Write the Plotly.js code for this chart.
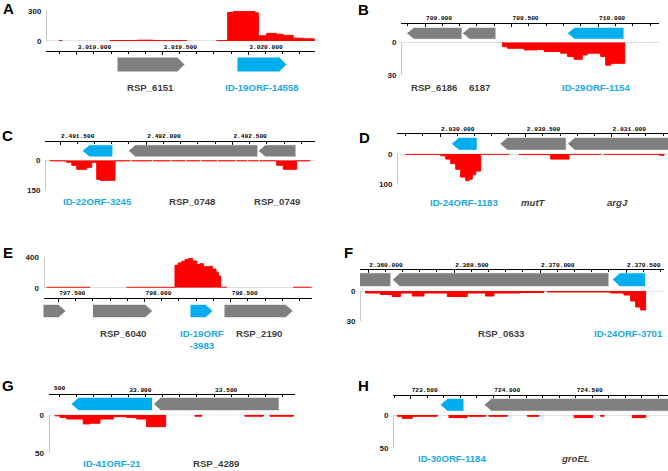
<!DOCTYPE html>
<html><head><meta charset="utf-8">
<script src="https://cdn.plot.ly/plotly-3.0.1.min.js"></script>
<style>html,body{margin:0;padding:0;background:#fff}</style>
</head><body><div id="chart" style="width:668px;height:471px"></div>
<script>
const W = 668, H = 471;
const GRAY = '#7f7f7f', CYAN = '#00aeef', RED = '#ff0000';
const KNOWN_TXT = '#3f3f3f', NOVEL_TXT = '#1ba7e1';

// ---------- Panel A ----------
const aTickVals = [3019000, 3019500, 3020000];
const aTickText = ['3.019.000', '3.019.500', '3.020.000'];
const aCovTicks = ['0', '300'];
const aGeneName = ['RSP_6151', 'ID-19ORF-14558'];
const aGeneLabel = ['RSP_6151', 'ID-19ORF-14558'];
const aGeneStart = [3019235, 3019934];
const aGeneEnd = [3019631, 3020225];
const aGeneStrand = ['+', '+'];
const aGeneType = ['known', 'novel'];
const aCovPos = [3018825, 3018899, 3018914, 3019194, 3019350, 3019447, 3019641, 3019816, 3019880, 3019913, 3020039, 3020059, 3020107, 3020165, 3020204, 3020262, 3020321, 3020385];
const aCovVal = [0, 5, 0, 4, 8, 4, 0, 4, 285, 296, 282, 52, 76, 68, 56, 28, 22];

// ---------- Panel B ----------
const bTickVals = [709000, 709500, 710000];
const bTickText = ['709.000', '709.500', '710.000'];
const bCovTicks = ['0', '30'];
const bGeneName = ['RSP_6186', 'RSP_6187', 'ID-29ORF-1154'];
const bGeneLabel = ['RSP_6186', '6187', 'ID-29ORF-1154'];
const bGeneStart = [708892, 709214, 709821];
const bGeneEnd = [709214, 709410, 710150];
const bGeneStrand = ['-', '-', '-'];
const bGeneType = ['known', 'known', 'novel'];
const bCovPos = [709447, 709476, 709572, 709649, 709688, 709784, 709823, 709861, 709909, 709938, 710015, 710044, 710073, 710154];
const bCovVal = [4, 5.5, 7, 6.5, 8.5, 10, 13, 15.6, 11.6, 10, 13, 21, 19.3];

// ---------- Panel C ----------
const cTickVals = [2491500, 2492000, 2492500];
const cTickText = ['2.491.500', '2.492.000', '2.492.500'];
const cCovTicks = ['0', '150'];
const cGeneName = ['ID-22ORF-3245', 'RSP_0748', 'RSP_0749'];
const cGeneLabel = ['ID-22ORF-3245', 'RSP_0748', 'RSP_0749'];
const cGeneStart = [2491628, 2491894, 2492648];
const cGeneEnd = [2491807, 2492648, 2492869];
const cGeneStrand = ['-', '-', '-'];
const cGeneType = ['novel', 'known', 'known'];
const cCovPos = [2491442, 2491539, 2491568, 2491597, 2491655, 2491684, 2491713, 2491732, 2491819, 2491906, 2491916, 2492032, 2492042, 2492138, 2492148, 2492225, 2492235, 2492312, 2492322, 2492409, 2492419, 2492515, 2492525, 2492583, 2492593, 2492650, 2492660, 2492757, 2492795, 2492873, 2492950];
const cCovVal = [3, 10, 25, 45, 35, 10, 95, 100, 3, 0, 3, 0, 3, 0, 3, 0, 3, 0, 3, 0, 3, 0, 3, 0, 3, 0, 3, 25, 45, 3];

// ---------- Panel D ----------
const dTickVals = [2930000, 2930500, 2931000];
const dTickText = ['2.930.000', '2.930.500', '2.931.000'];
const dCovTicks = ['0', '100'];
const dGeneName = ['ID-24ORF-1183', 'mutT', 'argJ'];
const dGeneLabel = ['ID-24ORF-1183', '<i>mutT</i>', '<i>argJ</i>'];
const dGeneStart = [2930066, 2930348, 2930742];
const dGeneEnd = [2930217, 2930736, 2931400];
const dGeneStrand = ['-', '-', '-'];
const dGeneType = ['novel', 'known', 'known'];
const dCovPos = [2929800, 2930004, 2930033, 2930062, 2930091, 2930120, 2930150, 2930169, 2930188, 2930208, 2930237, 2930402, 2930460, 2930645, 2930752, 2930937, 2930956, 2931277, 2931306];
const dCovVal = [2, 7, 18, 33, 52, 78, 90, 85, 70, 58, 2, 0, 3, 18, 2, 0, 2, 5];

// ---------- Panel E ----------
const eTickVals = [797500, 798000, 798500];
const eTickText = ['797.500', '798.000', '798.500'];
const eCovTicks = ['0', '400'];
const eGeneName = ['', 'RSP_6040', 'ID-19ORF-3983', 'RSP_2190'];
const eGeneLabel = ['', 'RSP_6040', 'ID-19ORF<br>-3983', 'RSP_2190'];
const eGeneStart = [797380, 797698, 798264, 798461];
const eGeneEnd = [797545, 798048, 798398, 798863];
const eGeneStrand = ['+', '+', '+', '+'];
const eGeneType = ['known', 'known', 'novel', 'known'];
const eCovPos = [797433, 797684, 797897, 798177, 798196, 798216, 798235, 798254, 798279, 798303, 798322, 798341, 798370, 798395, 798415, 798428, 798442, 798477, 798863, 798970];
const eCovVal = [5, 0, 5, 290, 320, 340, 365, 375, 345, 300, 310, 270, 275, 240, 200, 150, 6, 0, 6];

// ---------- Panel F ----------
const fTickVals = [2369000, 2369500, 2370000, 2370500];
const fTickText = ['2.369.000', '2.369.500', '2.370.000', '2.370.500'];
const fCovTicks = ['0', '30'];
const fGeneName = ['', 'RSP_0633', 'ID-24ORF-3701'];
const fGeneLabel = ['', 'RSP_0633', 'ID-24ORF-3701'];
const fGeneStart = [2368800, 2369140, 2370420];
const fGeneEnd = [2369132, 2370401, 2370614];
const fGeneStrand = ['-', '-', '-'];
const fGeneType = ['known', 'known', 'novel'];
const fCovPos = [2368984, 2369072, 2369140, 2369188, 2369256, 2369324, 2369460, 2369576, 2369682, 2369731, 2369886, 2370022, 2370042, 2370410, 2370488, 2370527, 2370556, 2370585, 2370614];
const fCovVal = [2, 3.5, 5.5, 2, 5, 2, 5.5, 2, 5, 2, 1.5, 0, 1, 2, 4, 10, 16, 19];

// ---------- Panel G ----------
const gTickVals = [33000, 33500];
const gTickText = ['33.000', '33.500'];
const gCovTicks = ['0', '50'];
const gGeneName = ['ID-41ORF-21', 'RSP_4289'];
const gGeneLabel = ['ID-41ORF-21', 'RSP_4289'];
const gGeneStart = [32666, 33146];
const gGeneEnd = [33142, 33880];
const gGeneStrand = ['-', '-'];
const gGeneType = ['novel', 'known'];
const gCovPos = [32573, 32602, 32641, 32738, 32777, 32835, 32913, 32990, 33049, 33107, 33218, 33389, 33428, 33680, 33787, 33826, 33962];
const gCovVal = [1.5, 3.5, 5.6, 12, 11, 5.6, 2.5, 3.5, 5.6, 15.5, 0, 2, 0, 2, 0, 2];

// ---------- Panel H ----------
const hTickVals = [723500, 724000, 724500];
const hTickText = ['723.500', '724.000', '724.500'];
const hCovTicks = ['0', '50'];
const hGeneName = ['ID-30ORF-1184', 'groEL'];
const hGeneLabel = ['ID-30ORF-1184', '<i>groEL</i>'];
const hGeneStart = [723678, 723944];
const hGeneEnd = [723823, 725150];
const hGeneStrand = ['-', '-'];
const hGeneType = ['novel', 'known'];
const hCovPos = [723419, 723449, 723510, 723661, 723732, 723843, 723853, 723954, 723974, 724086, 724207, 724277, 724490, 724601, 724651, 724671, 724843, 724924];
const hCovVal = [2, 5, 2, 0, 4, 0, 2, 0, 2, 0, 2, 0, 4, 0, 2, 0, 4];

const panels = [
  {letter:'A', tv:aTickVals, tt:aTickText, ct:aCovTicks, gn:aGeneName, gl:aGeneLabel, gs:aGeneStart, ge:aGeneEnd, gd:aGeneStrand, gt:aGeneType, cp:aCovPos, cv:aCovVal},
  {letter:'B', tv:bTickVals, tt:bTickText, ct:bCovTicks, gn:bGeneName, gl:bGeneLabel, gs:bGeneStart, ge:bGeneEnd, gd:bGeneStrand, gt:bGeneType, cp:bCovPos, cv:bCovVal},
  {letter:'C', tv:cTickVals, tt:cTickText, ct:cCovTicks, gn:cGeneName, gl:cGeneLabel, gs:cGeneStart, ge:cGeneEnd, gd:cGeneStrand, gt:cGeneType, cp:cCovPos, cv:cCovVal},
  {letter:'D', tv:dTickVals, tt:dTickText, ct:dCovTicks, gn:dGeneName, gl:dGeneLabel, gs:dGeneStart, ge:dGeneEnd, gd:dGeneStrand, gt:dGeneType, cp:dCovPos, cv:dCovVal},
  {letter:'E', tv:eTickVals, tt:eTickText, ct:eCovTicks, gn:eGeneName, gl:eGeneLabel, gs:eGeneStart, ge:eGeneEnd, gd:eGeneStrand, gt:eGeneType, cp:eCovPos, cv:eCovVal},
  {letter:'F', tv:fTickVals, tt:fTickText, ct:fCovTicks, gn:fGeneName, gl:fGeneLabel, gs:fGeneStart, ge:fGeneEnd, gd:fGeneStrand, gt:fGeneType, cp:fCovPos, cv:fCovVal},
  {letter:'G', tv:gTickVals, tt:gTickText, ct:gCovTicks, gn:gGeneName, gl:gGeneLabel, gs:gGeneStart, ge:gGeneEnd, gd:gGeneStrand, gt:gGeneType, cp:gCovPos, cv:gCovVal},
  {letter:'H', tv:hTickVals, tt:hTickText, ct:hCovTicks, gn:hGeneName, gl:hGeneLabel, gs:hGeneStart, ge:hGeneEnd, gd:hGeneStrand, gt:hGeneType, cp:hCovPos, cv:hCovVal}
];

// ---------- layout geometry (pixels) ----------
const geom = [
  {x0:46,   x1:315,   range:[3018821,3020389], axisY:51,    gT:57,    gB:72,    cT:11,    cB:41,    yx:46,   lab:87,    lx:8.5,  ly:9,     up:true,  max:300},
  {x0:401,  x1:659,   range:[708861,710352],   axisY:22.7,  gT:27.3,  gB:39.3,  cT:42.3,  cB:75,    yx:401,  lab:87,    lx:363.5,ly:9.5,   up:false, max:30},
  {x0:45,   x1:315,   range:[2491413,2492979], axisY:140.7, gT:144.7, gB:157,   cT:160.3, cB:190.3, yx:45,   lab:200.7, lx:7.5,  ly:136,   up:false, max:150},
  {x0:397,  x1:668,   range:[2929749,2931329], axisY:133,   gT:137.3, gB:150.3, cT:153.7, cB:183.7, yx:397,  lab:201.3, lx:364,  ly:137.5, up:false, max:100},
  {x0:43.5, x1:311.7, range:[797414,798970],   axisY:297.7, gT:304.3, gB:317.7, cT:256.7, cB:287.7, yx:43.5, lab:332.7, lx:8,    ly:252.5, up:true,  max:400},
  {x0:360,  x1:664,   range:[2368952,2370721], axisY:269.3, gT:272.7, gB:286.7, cT:291,   cB:321,   yx:360,  lab:332.7, lx:348,  ly:252.5, up:false, max:30},
  {x0:48.5, x1:295,   range:[32535,33972],     axisY:394,   gT:397.3, gB:410.7, cT:414.7, cB:453.3, yx:48.5, lab:462.3, lx:7.5,  ly:385.5, up:false, max:50},
  {x0:393,  x1:668,   range:[723393,725059],   axisY:394.7, gT:398.3, gB:411.3, cT:415,   cB:448,   yx:393,  lab:457.3, lx:363.5,ly:385.5, up:false, max:50}
];
const HEAD_PX = 7.5;
const MONO_SIZE = 6.2;

const traces = [];
const layout = {
  width: W, height: H, margin:{l:0,r:0,t:0,b:0},
  paper_bgcolor:'#fff', plot_bgcolor:'rgba(0,0,0,0)',
  showlegend:false, annotations:[], shapes:[],
  font:{family:'Liberation Sans, Arial, sans-serif'}
};
const MONO = 'Liberation Mono, DejaVu Sans Mono, monospace';
const SANS = 'Liberation Sans, Arial, sans-serif';
const sfx = n => (n === 1 ? '' : String(n));

panels.forEach((p, i) => {
  const g = geom[i];
  const xn = i + 1, ycn = 2*i + 1, ygn = 2*i + 2;
  const xRef = 'x' + sfx(xn), ycRef = 'y' + sfx(ycn), ygRef = 'y' + sfx(ygn);

  layout['xaxis' + sfx(xn)] = {
    domain:[g.x0/W, g.x1/W], range:g.range, anchor:'free', position:1 - g.axisY/H, side:'top',
    showline:true, linecolor:'#000', linewidth:1,
    tickmode:'array', tickvals:p.tv, ticktext:p.tt.map(t => '<b>' + t + '</b>'),
    ticks:'inside', ticklen:3, tickwidth:1, tickcolor:'#000',
    ticklabelposition:'outside right',
    minor:{tick0:0, dtick:100, ticks:'inside', ticklen:2, tickwidth:1, tickcolor:'#000', showgrid:false},
    tickfont:{family:MONO, size:MONO_SIZE, color:'#000'},
    showgrid:false, zeroline:false, fixedrange:true
  };
  layout['yaxis' + sfx(ycn)] = {
    domain:[1 - g.cB/H, 1 - g.cT/H], range: g.up ? [0, g.max] : [g.max, 0],
    anchor:'free', position:g.yx/W, side:'left',
    showline:true, linecolor:'#c8c8c8', linewidth:1,
    ticks:'inside', ticklen:3, tickcolor:'#c8c8c8', tickwidth:1,
    ticklabelstandoff:3,
    tickmode:'array', tickvals:[0, g.max], ticktext:p.ct.map(t => '<b>' + t + '</b>'),
    tickfont:{family:SANS, size:8, color:'#222'},
    showgrid:false, zeroline:false, fixedrange:true
  };
  layout['yaxis' + sfx(ygn)] = {
    domain:[1 - g.gB/H, 1 - g.gT/H], range:[0, 1], anchor:'free', position:g.x0/W,
    visible:false, fixedrange:true
  };

  // zero baseline
  layout.shapes.push({type:'line', xref:'paper', yref:ycRef, x0:g.yx/W, x1:g.x1/W, y0:0, y1:0,
    line:{color:'#c8c8c8', width:1}, layer:'below'});

  // coverage polygons (one closed polygon per run of non-zero coverage)
  const cx = [], cy = [];
  let k = 0;
  while (k < p.cv.length) {
    if (p.cv[k] > 0) {
      cx.push(p.cp[k]); cy.push(0);
      while (k < p.cv.length && p.cv[k] > 0) {
        cx.push(p.cp[k], p.cp[k+1]); cy.push(p.cv[k], p.cv[k]); k++;
      }
      cx.push(p.cp[k]); cy.push(0);
      cx.push(null); cy.push(null);
    } else k++;
  }
  traces.push({type:'scatter', mode:'lines', x:cx, y:cy, xaxis:xRef, yaxis:ycRef,
    fill:'toself', fillcolor:RED, line:{color:RED, width:1}, hoverinfo:'skip'});

  // genes
  const bpPerPx = (g.range[1] - g.range[0]) / (g.x1 - g.x0);
  const hb = HEAD_PX * bpPerPx;
  p.gn.forEach((name, j) => {
    const s = p.gs[j], e = p.ge[j];
    let xs;
    if (p.gd[j] === '+') {
      const b = Math.max(s, e - hb);
      xs = [s, b, e, b, s, s];
    } else {
      const b = Math.min(e, s + hb);
      xs = [e, b, s, b, e, e];
    }
    const col = p.gt[j] === 'novel' ? CYAN : GRAY;
    traces.push({type:'scatter', mode:'lines', x:xs, y:[0, 0, 0.5, 1, 1, 0], xaxis:xRef, yaxis:ygRef,
      fill:'toself', fillcolor:col, line:{color:'#fff', width:1}, hoverinfo:'skip', name:name});
    if (p.gl[j]) {
      const cxm = (Math.max(s, g.range[0]) + Math.min(e, g.range[1])) / 2;
      layout.annotations.push({xref:xRef, yref:'paper', x:cxm, y:1 - (g.lab - 6.5)/H,
        xanchor:'center', yanchor:'top', showarrow:false, align:'center',
        text:'<b>' + p.gl[j] + '</b>',
        font:{family:SANS, size:9.6, color: p.gt[j] === 'novel' ? NOVEL_TXT : KNOWN_TXT}});
    }
  });

  // panel letter
  layout.annotations.push({xref:'paper', yref:'paper', x:g.lx/W, y:1 - g.ly/H, xanchor:'center', yanchor:'middle',
    showarrow:false, text:'<b>' + p.letter + '</b>', font:{family:SANS, size:15, color:'#000'}});
});

// clipped coordinate label at the left end of panel G's ruler
layout.annotations.push({xref:'paper', yref:'paper', x:52/W, y:1 - 388/H, xanchor:'left', yanchor:'middle',
  showarrow:false, text:'<b>500</b>', font:{family:MONO, size:MONO_SIZE, color:'#000'}});

Plotly.newPlot('chart', traces, layout, {staticPlot:true, displayModeBar:false});
</script></body></html>
